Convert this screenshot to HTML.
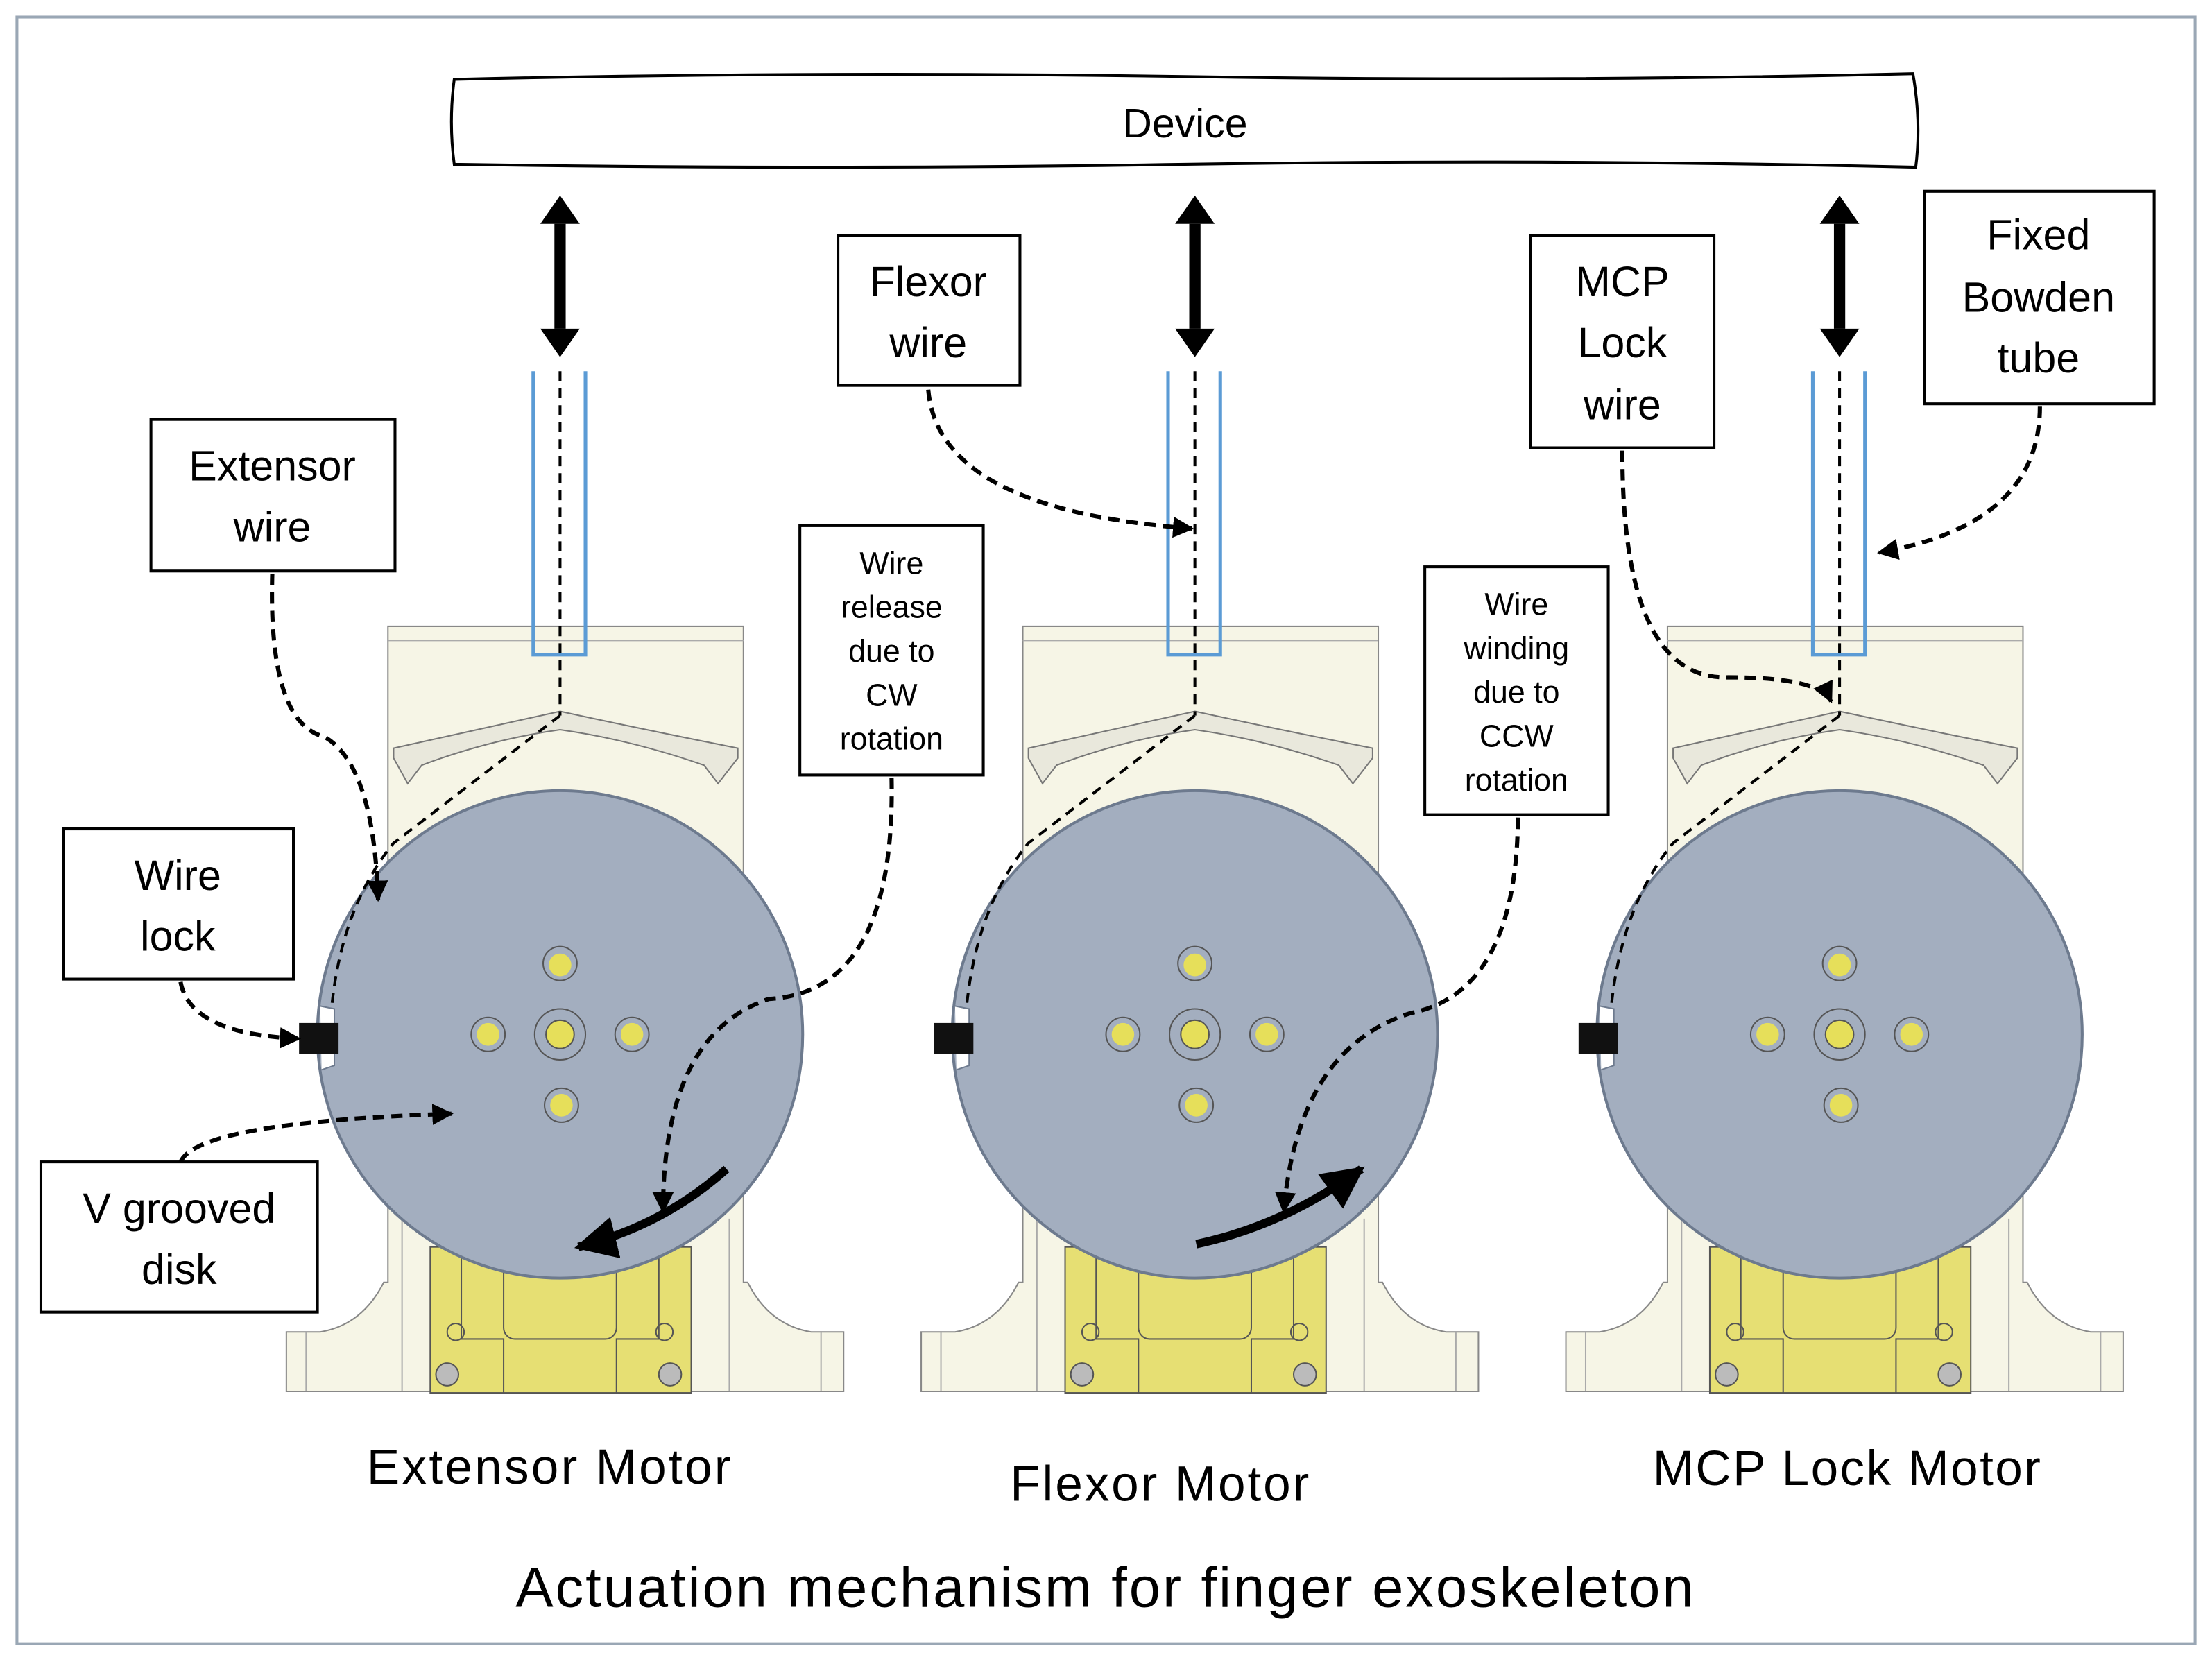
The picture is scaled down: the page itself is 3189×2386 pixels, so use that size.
<!DOCTYPE html>
<html><head><meta charset="utf-8"><style>
html,body{margin:0;padding:0;background:#fff;}
svg{display:block;}
text{font-family:"Liberation Sans",sans-serif;fill:#000;}
</style></head><body>
<svg width="3189" height="2386" viewBox="0 0 1568 1168" preserveAspectRatio="none" xmlns="http://www.w3.org/2000/svg">
<defs>
<marker id="ah" viewBox="0 0 10 10" refX="9" refY="5" markerWidth="5" markerHeight="5" orient="auto"><path d="M0,0 L10,5 L0,10 z" fill="#000"/></marker>
<g id="motor">
  <path d="M-194,982 L-194,940 L-170,940 Q-140,935 -125,905 L-122,905 L-122,442 L130,442 L130,905 L133,905 Q148,935 178,940 L201,940 L201,982 Z" fill="#f6f5e6" stroke="#888" stroke-width="1"/>
  <line x1="-180" y1="940" x2="-180" y2="982" stroke="#aaa"/>
  <line x1="185" y1="940" x2="185" y2="982" stroke="#aaa"/>
  <line x1="-112" y1="860" x2="-112" y2="982" stroke="#aaa"/>
  <line x1="120" y1="860" x2="120" y2="982" stroke="#aaa"/>
  <line x1="-122" y1="452" x2="130" y2="452" stroke="#aaa"/>
  <path d="M-118,528 Q-60,515 0,502 Q60,515 126,528 L126,535 L112,553 L102,540 Q50,522 0,515 Q-50,522 -98,540 L-108,553 L-118,535 Z" fill="#e9e8dc" stroke="#777" stroke-width="1"/>
  <rect x="-92" y="880" width="185" height="103" fill="#e6df73" stroke="#555" stroke-width="1"/>
  <path d="M-70,880 L-70,945 L-40,945 L-40,983 M70,880 L70,945 L40,945 L40,983" fill="none" stroke="#555"/>
  <rect x="-40" y="880" width="80" height="65" rx="8" fill="none" stroke="#555"/>
  <circle cx="-74" cy="940" r="6" fill="none" stroke="#555"/>
  <circle cx="74" cy="940" r="6" fill="none" stroke="#555"/>
  <circle cx="-80" cy="970" r="8" fill="#bbb" stroke="#555"/>
  <circle cx="78" cy="970" r="8" fill="#bbb" stroke="#555"/>
  <circle cx="0" cy="730" r="172" fill="#a3aebf" stroke="#6d7a8e" stroke-width="2"/>
  <circle cx="0" cy="680" r="12" fill="none" stroke="#555"/><circle cx="0" cy="681" r="8" fill="#e6df5a"/>
  <circle cx="0" cy="730" r="18" fill="none" stroke="#555"/><circle cx="0" cy="730" r="10" fill="#e6df5a" stroke="#555"/>
  <circle cx="-51" cy="730" r="12" fill="none" stroke="#555"/><circle cx="-51" cy="730" r="8" fill="#e6df5a"/>
  <circle cx="51" cy="730" r="12" fill="none" stroke="#555"/><circle cx="51" cy="730" r="8" fill="#e6df5a"/>
  <circle cx="1" cy="780" r="12" fill="none" stroke="#555"/><circle cx="1" cy="780" r="8" fill="#e6df5a"/>
  <path d="M-170,710 L-160,712 L-160,752 L-169,755" fill="#fff" stroke="#6d7a8e"/>
  <rect x="-185" y="722" width="28" height="22" fill="#111"/>
  <path d="M-19,262 L-19,462 L18,462 L18,262" fill="none" stroke="#5b9bd5" stroke-width="2.5"/>
  <line x1="0" y1="262" x2="0" y2="505" stroke="#000" stroke-width="2" stroke-dasharray="7,5"/>
  <path d="M0,505 L-118,595 Q-155,640 -162,712" fill="none" stroke="#000" stroke-width="2" stroke-dasharray="7,5"/>
  <line x1="0" y1="158" x2="0" y2="232" stroke="#000" stroke-width="8"/>
  <path d="M-14,158 L0,138 L14,158 Z M-14,232 L0,252 L14,232 Z" fill="#000"/>
</g>
</defs>
<rect x="0" y="0" width="1568" height="1168" fill="#fff"/>
<rect x="12" y="12" width="1544" height="1148" fill="none" stroke="#9aa7b5" stroke-width="2"/>
<path d="M322,56 Q580,50 840,54 Q1100,58 1356,52 Q1362,86 1358,118 Q1100,112 840,116 Q580,120 322,116 Q318,86 322,56 Z" fill="#fff" stroke="#000" stroke-width="2"/>
<text x="840" y="97" font-size="29" text-anchor="middle">Device</text>
<use href="#motor" transform="translate(397,0)"/>
<use href="#motor" transform="translate(847,0)"/>
<use href="#motor" transform="translate(1304,0)"/>
<path d="M515,825 Q470,865 410,880" fill="none" stroke="#000" stroke-width="6" marker-end="url(#ah)"/>
<path d="M848,878 Q910,865 965,825" fill="none" stroke="#000" stroke-width="6" marker-end="url(#ah)"/>
<g fill="#fff" stroke="#000" stroke-width="2">
<rect x="107" y="296" width="173" height="107"/>
<rect x="45" y="585" width="163" height="106"/>
<rect x="29" y="820" width="196" height="106"/>
<rect x="594" y="166" width="129" height="106"/>
<rect x="567" y="371" width="130" height="176"/>
<rect x="1010" y="400" width="130" height="175"/>
<rect x="1085" y="166" width="130" height="150"/>
<rect x="1364" y="135" width="163" height="150"/>
</g>
<g font-size="30" text-anchor="middle">
<text x="193" y="339">Extensor</text><text x="193" y="382">wire</text>
<text x="126" y="628">Wire</text><text x="126" y="671">lock</text>
<text x="127" y="863">V grooved</text><text x="127" y="906">disk</text>
<text x="658" y="209">Flexor</text><text x="658" y="252">wire</text>
<text x="1150" y="209">MCP</text><text x="1150" y="252">Lock</text><text x="1150" y="296">wire</text>
<text x="1445" y="176">Fixed</text><text x="1445" y="220">Bowden</text><text x="1445" y="263">tube</text>
</g>
<g font-size="22" text-anchor="middle">
<text x="632" y="405">Wire</text><text x="632" y="436">release</text><text x="632" y="467">due to</text><text x="632" y="498">CW</text><text x="632" y="529">rotation</text>
<text x="1075" y="434">Wire</text><text x="1075" y="465">winding</text><text x="1075" y="496">due to</text><text x="1075" y="527">CCW</text><text x="1075" y="558">rotation</text>
</g>
<g fill="none" stroke="#000" stroke-width="3" stroke-dasharray="8,5" marker-end="url(#ah)">
<path d="M193,405 Q190,510 230,520 Q265,540 268,635"/>
<path d="M128,693 Q135,730 212,733"/>
<path d="M128,820 Q140,792 320,786"/>
<path d="M658,275 Q665,360 845,373"/>
<path d="M632,549 Q635,700 545,705 Q470,730 470,855"/>
<path d="M1076,577 Q1075,700 1000,715 Q920,740 910,855"/>
<path d="M1150,318 Q1150,480 1225,478 Q1290,478 1298,495"/>
<path d="M1446,287 Q1446,370 1332,390"/>
</g>
<g font-size="35" text-anchor="middle">
<text x="389" y="1047" textLength="258">Extensor  Motor</text>
<text x="822" y="1059" textLength="212">Flexor Motor</text>
<text x="1309" y="1048" textLength="275">MCP Lock Motor</text>
</g>
<text x="783" y="1134" font-size="40" text-anchor="middle" textLength="835">Actuation mechanism for finger exoskeleton</text>
</svg>
</body></html>
